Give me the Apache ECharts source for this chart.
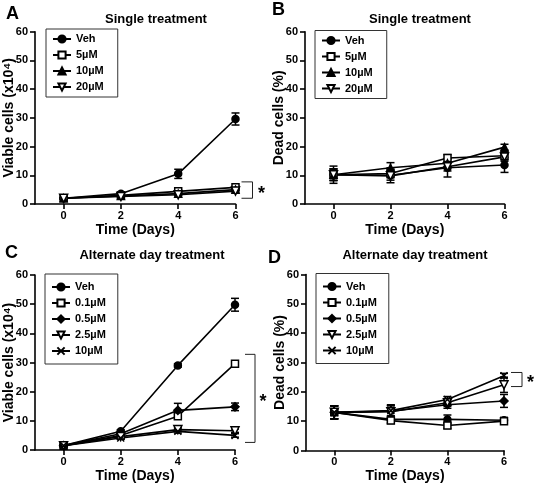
<!DOCTYPE html>
<html><head><meta charset="utf-8">
<script src="https://cdn.jsdelivr.net/npm/echarts@6/dist/echarts.min.js"></script>
<style>html,body{margin:0;padding:0;background:#fff}#c{width:537px;height:487px}</style>
</head><body><div id="c"></div>
<script>
// ---- data ----
const days = [0, 2, 4, 6];
const xTicks = [0, 2, 4, 6];
// Panel A: viable cells, single treatment
const aNames = ['Veh', '5µM', '10µM', '20µM'];
const aVeh = [2.0, 3.6, 10.5, 29.6], aVehErr = [0.4, 0.5, 1.6, 2.1];
const a5 = [2.0, 3.0, 4.4, 5.8], a5Err = [0.3, 0.3, 0.5, 0.4];
const a10 = [2.0, 2.8, 3.6, 5.0], a10Err = [0.2, 0.3, 0.4, 0.4];
const a20 = [2.0, 2.6, 3.2, 4.5], a20Err = [0.2, 0.3, 0.4, 0.5];
// Panel B: dead cells, single treatment
const bVeh = [10.2, 10.0, 12.6, 13.6], bVehErr = [3.0, 2.6, 3.2, 2.6];
const b5 = [10.2, 10.6, 16.0, 16.8], b5Err = [2.0, 1.5, 1.2, 1.5];
const b10 = [10.2, 12.6, 14.2, 19.8], b10Err = [2.0, 1.8, 1.5, 1.0];
const b20 = [10.2, 9.8, 13.0, 16.4], b20Err = [2.0, 1.5, 1.5, 1.5];
// Panel C: viable cells, alternate day treatment
const cNames = ['Veh', '0.1µM', '0.5µM', '2.5µM', '10µM '];
const cVeh = [1.5, 6.4, 29.0, 49.8], cVehErr = [0.4, 0.5, 0.6, 2.2];
const c01 = [1.5, 5.0, 11.6, 29.6], c01Err = [0.3, 0.5, 0.8, 0.8];
const c05 = [1.5, 5.6, 13.6, 14.8], c05Err = [0.3, 0.5, 2.4, 1.3];
const c25 = [1.5, 4.6, 7.0, 6.6], c25Err = [0.3, 0.4, 0.6, 0.6];
const c10 = [1.5, 4.1, 6.4, 5.0], c10Err = [0.3, 0.4, 0.6, 0.6];
// Panel D: dead cells, alternate day treatment
const dVeh = [13.0, 10.6, 10.6, 10.3], dVehErr = [2.2, 1.2, 1.5, 1.0];
const d01 = [13.0, 10.2, 8.5, 10.0], d01Err = [2.2, 1.0, 1.0, 1.0];
const d05 = [13.0, 13.4, 15.6, 16.9], d05Err = [2.2, 2.2, 1.2, 2.2];
const d25 = [13.0, 13.2, 16.3, 22.4], d25Err = [2.2, 2.0, 1.2, 2.6];
const d10 = [13.0, 13.6, 17.4, 25.5], d10Err = [2.2, 1.8, 1.0, 0.8];
// significance brackets [top, bottom] in data units (at day 6)
const sigA = [7.7, 2.0], sigC = [32.8, 2.6], sigD = [26.6, 21.8];

// ---- styles ----
const FONT = 'Liberation Sans, Arial, sans-serif';
const SYM = {
  circle: {symbol: 'circle', size: 7, fill: '#000'},
  square: {symbol: 'rect', size: 7, fill: '#fff'},
  tri: {symbol: 'triangle', size: 7, fill: '#000'},
  itri: {symbol: 'path://M0,0 L10,0 L5,9 Z', size: 8, fill: '#fff'},
  diamond: {symbol: 'diamond', size: 8, fill: '#000'},
  cross: {symbol: 'path://M0,0 L10,10 M10,0 L0,10', size: 7, fill: 'none'}
};

function errRender(params, api) {
  const x = api.value(0), y = api.value(1), e = api.value(2);
  const hi = api.coord([x, y + e]), lo = api.coord([x, y - e]);
  const w = 4, st = {stroke: '#000', lineWidth: 1.5};
  return {type: 'group', children: [
    {type: 'line', shape: {x1: hi[0], y1: hi[1], x2: lo[0], y2: lo[1]}, style: st},
    {type: 'line', shape: {x1: hi[0] - w, y1: hi[1], x2: hi[0] + w, y2: hi[1]}, style: st},
    {type: 'line', shape: {x1: lo[0] - w, y1: lo[1], x2: lo[0] + w, y2: lo[1]}, style: st}
  ]};
}

const series = [];
function addSeries(grid, name, vals, errs, sym) {
  series.push({
    type: 'custom', name: 'err' + grid + name, xAxisIndex: grid, yAxisIndex: grid,
    renderItem: errRender, encode: {x: 0, y: 1}, z: 3, silent: true,
    data: days.map((d, i) => [d, vals[i], errs[i]])
  });
  const s = SYM[sym];
  series.push({
    type: 'line', name: name, xAxisIndex: grid, yAxisIndex: grid, z: 5,
    data: days.map((d, i) => [d, vals[i]]),
    symbol: s.symbol, symbolSize: s.size, showAllSymbol: true,
    lineStyle: {color: '#000', width: 1.6},
    itemStyle: {color: s.fill === 'none' ? '#000' : s.fill, borderColor: '#000', borderWidth: 1.5},
    emphasis: {disabled: true}, animation: false
  });
}
addSeries(0, aNames[0], aVeh, aVehErr, 'circle');
addSeries(0, aNames[1], a5, a5Err, 'square');
addSeries(0, aNames[2], a10, a10Err, 'tri');
addSeries(0, aNames[3], a20, a20Err, 'itri');
addSeries(1, aNames[0], bVeh, bVehErr, 'circle');
addSeries(1, aNames[1], b5, b5Err, 'square');
addSeries(1, aNames[2], b10, b10Err, 'tri');
addSeries(1, aNames[3], b20, b20Err, 'itri');
addSeries(2, cNames[0], cVeh, cVehErr, 'circle');
addSeries(2, cNames[1], c01, c01Err, 'square');
addSeries(2, cNames[2], c05, c05Err, 'diamond');
addSeries(2, cNames[3], c25, c25Err, 'itri');
addSeries(2, cNames[4], c10, c10Err, 'cross');
addSeries(3, cNames[0], dVeh, dVehErr, 'circle');
addSeries(3, cNames[1], d01, d01Err, 'square');
addSeries(3, cNames[2], d05, d05Err, 'diamond');
addSeries(3, cNames[3], d25, d25Err, 'itri');
addSeries(3, cNames[4], d10, d10Err, 'cross');

function sigRender(offA, offV, offS) {
  return function (params, api) {
    const top = api.coord([6, api.value(0)]), bot = api.coord([6, api.value(1)]);
    const xv = top[0] + offV, xa = top[0] + offA;
    const st = {stroke: '#222', lineWidth: 1, fill: null};
    return {type: 'group', children: [
      {type: 'polyline', shape: {points: [[xa, top[1]], [xv, top[1]], [xv, bot[1]], [xa, bot[1]]]}, style: st},
      {type: 'text', x: top[0] + offS, y: (top[1] + bot[1]) / 2 + 4,
       style: {text: '*', font: 'bold 18px ' + FONT, fill: '#000', align: 'center', verticalAlign: 'middle'}}
    ]};
  };
}
series.push({type: 'custom', xAxisIndex: 0, yAxisIndex: 0, clip: false, silent: true,
  renderItem: sigRender(6, 17, 26), data: [sigA]});
series.push({type: 'custom', xAxisIndex: 2, yAxisIndex: 2, clip: false, silent: true,
  renderItem: sigRender(10, 20, 28), data: [sigC]});
series.push({type: 'custom', xAxisIndex: 3, yAxisIndex: 3, clip: false, silent: true,
  renderItem: sigRender(7, 18, 26.5), data: [sigD]});

const grids = [
  {left: 35, top: 31.7, width: 200.5, height: 172.3},
  {left: 305, top: 31.7, width: 199.5, height: 172.3},
  {left: 35, top: 275, width: 200, height: 175},
  {left: 306, top: 274.5, width: 198, height: 176}
].map(g => Object.assign(g, {containLabel: false, outerBoundsMode: 'none'}));
const yNames = ['Viable cells (x10⁴)', 'Dead cells (%)', 'Viable cells (x10⁴)', 'Dead cells (%)'];
const axisLineStyle = {color: '#000', width: 1.6};
const xAxes = grids.map((g, i) => ({
  type: 'value', gridIndex: i, min: -1, max: 6,
  axisLine: {onZero: false, lineStyle: axisLineStyle},
  axisTick: {customValues: xTicks, length: 5, lineStyle: axisLineStyle},
  axisLabel: {customValues: xTicks, color: '#000', fontSize: 11, fontWeight: 'bold', fontFamily: FONT, margin: 6},
  splitLine: {show: false},
  name: 'Time (Days)', nameLocation: 'middle', nameGap: 19, nameMoveOverlap: false,
  nameTextStyle: {color: '#000', fontSize: 14, fontWeight: 'bold', fontFamily: FONT}
}));
const yAxes = grids.map((g, i) => ({
  type: 'value', gridIndex: i, min: 0, max: 60, interval: 10,
  axisLine: {show: true, onZero: false, lineStyle: axisLineStyle},
  axisTick: {show: true, length: 5, lineStyle: axisLineStyle},
  axisLabel: {color: '#000', fontSize: 11, fontWeight: 'bold', fontFamily: FONT, margin: 7},
  splitLine: {show: false},
  name: yNames[i], nameLocation: 'middle', nameGap: 19, nameRotate: 90, nameMoveOverlap: false,
  nameTextStyle: {color: '#000', fontSize: 14, fontWeight: 'bold', fontFamily: FONT}
}));

function legend(left, top, names, pad) {
  return {
    left: left, top: top, orient: 'vertical', data: names,
    borderColor: '#333', borderWidth: 1, padding: pad,
    itemWidth: 18, itemHeight: 9, itemGap: 4, selectedMode: false,
    textStyle: {color: '#000', fontSize: 11, fontWeight: 'bold', fontFamily: FONT, lineHeight: 12}
  };
}

const texts = [
  ['A', 6, 14, 'left', 'bold 18px'], ['B', 272, 10, 'left', 'bold 18px'],
  ['C', 5, 253, 'left', 'bold 18px'], ['D', 268, 258, 'left', 'bold 18px'],
  ['Single treatment', 156, 19, 'center', 'bold 13px'],
  ['Single treatment', 420, 19, 'center', 'bold 13px'],
  ['Alternate day treatment', 152, 255, 'center', 'bold 13px'],
  ['Alternate day treatment', 415, 255, 'center', 'bold 13px']
];

const option = {
  animation: false,
  backgroundColor: '#fff',
  grid: grids,
  xAxis: xAxes,
  yAxis: yAxes,
  legend: [
    legend(46, 29, aNames, [4, 14, 4, 6]),
    legend(315, 30.5, aNames, [4, 14, 4, 6]),
    legend(45, 274, cNames, [7, 12, 7, 6]),
    legend(316, 273.5, cNames, [7, 12, 7, 6])
  ],
  graphic: texts.map(t => ({
    type: 'text', x: t[1], y: t[2],
    style: {text: t[0], font: t[4] + ' ' + FONT, fill: '#000', textAlign: t[3], textVerticalAlign: 'middle'}
  })),
  series: series
};
const chart = echarts.init(document.getElementById('c'), null, {renderer: 'canvas'});
chart.setOption(option);
</script></body></html>
